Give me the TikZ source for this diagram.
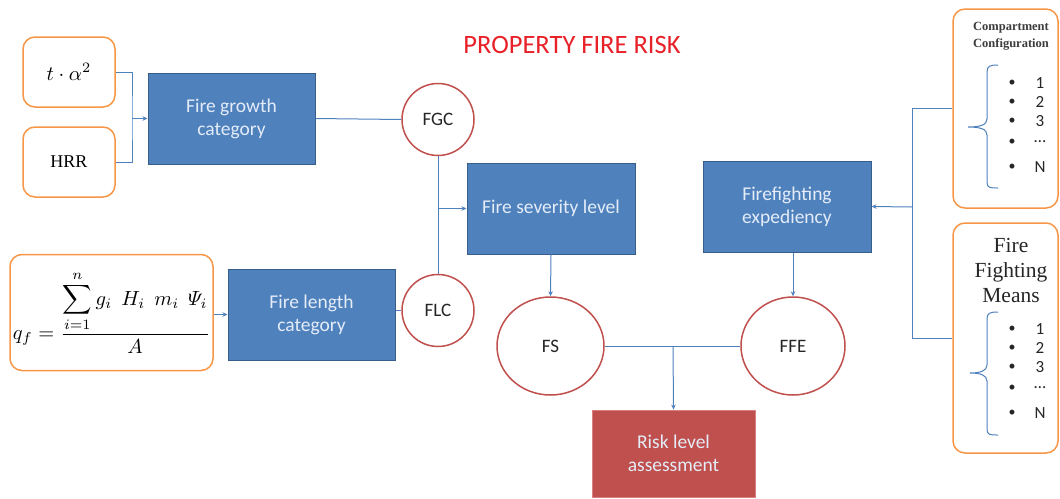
\documentclass[tikz,border=0pt]{standalone}
\usepackage{fontspec}
\setmainfont{Carlito}
\newfontfamily\serifface{Liberation Serif}
\usetikzlibrary{arrows.meta,shapes.geometric}
\definecolor{boxblue}{RGB}{79,129,189}
\definecolor{boxblueline}{RGB}{56,93,138}
\definecolor{boxtext}{RGB}{228,236,248}
\definecolor{conn}{RGB}{79,129,189}
\definecolor{orangeline}{RGB}{247,150,70}
\definecolor{circred}{RGB}{192,80,77}
\definecolor{riskred}{RGB}{192,80,77}
\definecolor{riskline}{RGB}{215,130,128}
\definecolor{titlered}{RGB}{232,32,40}
\definecolor{greytext}{RGB}{60,60,60}
\tikzset{
  bluebox/.style={draw=boxblueline, fill=boxblue, line width=1pt, text=boxtext,
    inner sep=0pt, align=center, font=\fontsize{19.5}{23}\selectfont},
  inbox/.style={draw=orangeline, line width=1.5pt, rounded corners=12pt, fill=white,
    inner sep=0pt, align=center},
  circ/.style={draw=circred, line width=1.5pt, fill=white, ellipse, inner sep=0pt,
    font=\fontsize{19}{22}\selectfont, text=black!85},
  conline/.style={draw=conn, line width=1pt},
  arr/.style={conline, -{Stealth[length=5pt,width=4.5pt]}},
  bracepath/.style={draw=conn, line width=1pt},
  item/.style={inner sep=0pt, font=\fontsize{17}{19}\selectfont, text=black!85},
  dotitem/.style={inner sep=0pt, font=\fontsize{14}{14}\selectfont, text=black!85},
}
\begin{document}
\begin{tikzpicture}[x=1pt,y=-1pt]
\useasboundingbox (0,0) rectangle (1060,498);

% title
\node[text=titlered, font=\fontsize{26.5}{30}\selectfont] (title) at (572,45) {PROPERTY FIRE RISK};

% left inputs
\node[inbox, minimum width=92pt, minimum height=70pt] (ta) at (69,72) {\scalebox{2.05}{$t\cdot\alpha^{2}$}};
\node[inbox, minimum width=92pt, minimum height=70pt, font=\serifface\fontsize{18}{20}\selectfont] (hrr) at (69,162) {HRR};
\node[inbox, minimum width=203pt, minimum height=116pt] (form) at (111.5,312.5)
  {\scalebox{2.05}{$\displaystyle q_{f}=\frac{\displaystyle\sum_{i=1}^{n} g_{i}\;\, H_{i}\;\, m_{i}\;\, \mathnormal{\Psi}_{i}}{A}$}};

% blue boxes
\node[bluebox, minimum width=167pt, minimum height=91pt] (fgcat) at (231.5,118.5) {Fire growth\\category};
\node[bluebox, minimum width=167pt, minimum height=91pt] (flcat) at (311.5,314.5) {Fire length\\category};
\node[bluebox, minimum width=168pt, minimum height=91pt] (fsl) at (551,208.5) {Fire severity level};
\node[bluebox, minimum width=168pt, minimum height=91pt] (ffexp) at (787,206.5) {Firefighting\\expediency};

% circles
\node[circ, minimum width=72pt, minimum height=72pt] (fgc) at (438,119.5) {FGC};
\node[circ, minimum width=72pt, minimum height=72pt] (flc) at (438,310.5) {FLC};
\node[circ, minimum width=107pt, minimum height=98pt] (fs) at (550.5,346) {FS};
\node[circ, minimum width=104pt, minimum height=98pt] (ffe) at (793,346) {FFE};

% risk box
\node[draw=riskline, fill=riskred, line width=0.8pt, text=boxtext, inner sep=0pt, align=center,
  font=\fontsize{19.5}{23}\selectfont, minimum width=163pt, minimum height=87pt] (risk) at (673.5,453.5) {Risk level\\assessment};

% right boxes
\node[inbox, minimum width=105pt, minimum height=199pt] (cc) at (1005.5,108.5) {};
\node[inbox, minimum width=105pt, minimum height=230pt] (ffm) at (1005.5,338) {};
\node[font=\serifface\bfseries\fontsize{12.5}{16.5}\selectfont, text=greytext, align=center, inner sep=0pt] (cctitle) at (1011,36) {Compartment\\Configuration};
\node[font=\serifface\fontsize{21.5}{25}\selectfont, align=center, inner sep=0pt, text=black!85] (ffmtitle) at (1011,270) {Fire\\Fighting\\Means};

% bullet items
\foreach \yy/\tt [count=\k] in {83/1,102/2,121/3,142/{\ldots},167/N}{
  \node[dotitem] (cb\k) at (1012,\yy) {•};
  \node[item] (cn\k) at (1040,\yy) {\tt};
}
\foreach \yy/\tt [count=\k] in {329/1,348/2,367/3,388/{\ldots},413/N}{
  \node[dotitem] (fb\k) at (1012,\yy) {•};
  \node[item] (fn\k) at (1040,\yy) {\tt};
}

% braces
\draw[bracepath] (998,65) .. controls (990,65) and (987,66) .. (987,72) -- (987,119)
  .. controls (987,125) and (980,127) .. (968,127)
  .. controls (980,127) and (987,129) .. (987,135) -- (987,182)
  .. controls (987,188) and (990,188) .. (998,188);
\draw[bracepath] (998,312) .. controls (990,312) and (987,313) .. (987,319) -- (987,365)
  .. controls (987,371) and (980,373) .. (970,373)
  .. controls (980,373) and (987,375) .. (987,381) -- (987,429)
  .. controls (987,435) and (990,435) .. (998,435);

% junction coordinates
\coordinate (j1) at (132,118.5);
\coordinate (j2) at (438,208.5);
\coordinate (j3) at (673,346);
\coordinate (j4) at (912,207);

% connectors
\draw[conline] (ta.east) -| (j1) |- (hrr.east);
\draw[arr] (j1) -- (fgcat.west);
\draw[conline] (fgcat.east) -- (fgc.west);
\draw[conline] (fgc.south) -- (flc.north);
\draw[arr] (j2) -- (fsl.west);
\draw[conline] (flc.west -| flcat.east) -- (flc.west);
\draw[arr] (form.east |- flcat.west) -- (flcat.west);
\draw[arr] (fsl.south) -- (fs.north);
\draw[arr] (ffe.north |- ffexp.south) -- (ffe.north);
\draw[conline] (fs.east) -- (ffe.west);
\draw[arr] (j3) -- (risk.north);
\draw[conline] (cc.west) -| (j4) |- (ffm.west);
\draw[arr] (j4) -- (ffexp.east);
\end{tikzpicture}
\end{document}
